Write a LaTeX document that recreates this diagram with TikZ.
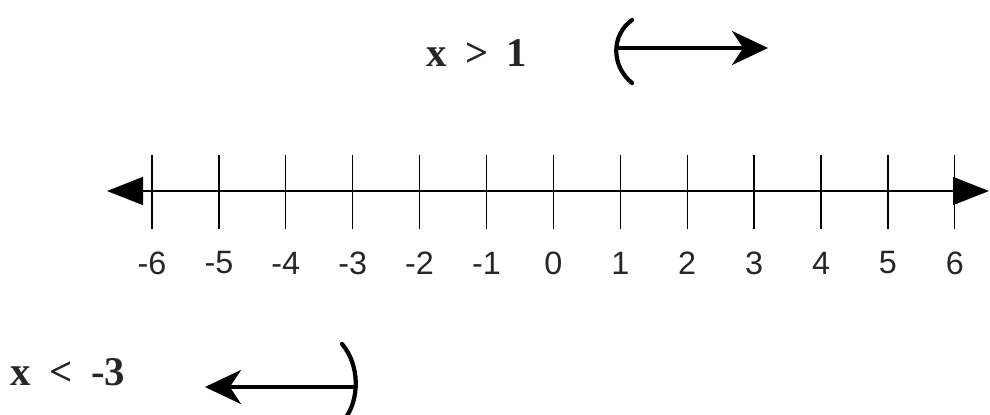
\documentclass[tikz,border=0pt]{standalone}
\usepackage{fontspec}
\setmainfont{Liberation Serif}
\setsansfont{Liberation Sans}
\usetikzlibrary{arrows.meta}
\usetikzlibrary{positioning}

\begin{document}
\begin{tikzpicture}[x=0.025cm, y=-0.025cm,
		num/.style		= {font=\sffamily\fontsize{23}{23}\selectfont, text=black!85},
		ineq/.style		= {font=\bfseries\fontsize{29}{29}\selectfont, text=black!85},
		axis/.style		= {line width=1pt, {Triangle[length=0.9cm, width=0.7cm]}-{Triangle[length=0.9cm, width=0.7cm]}},
		tickline/.style	= {line width=0.9pt},
		ray/.style		= {line width=2.4pt, -{Stealth[length=0.9cm, width=0.85cm, inset=0.28cm]}},
		paren/.style	= {line width=3pt, line cap=round}
		]
		
		\useasboundingbox (0,0) rectangle (990,414);
		
		% === === Number line === ===
		\coordinate	(lend)	at	(107, 191);
		\coordinate	(rend)	at	(989, 191);
		\draw[axis]	(lend)	--	(rend);
		
		\foreach \n [count=\i from 0] in {-6,...,6} {
			\coordinate	(a\i)	at	({152+66.9*\i}, 155);
			\coordinate	(b\i)	at	({152+66.9*\i}, 229);
			\draw[tickline]	(a\i)	--	(b\i);
			\node[num]	(n\i)	at	({152+66.9*\i}, 263)	{\n};
		}
		
		
		% === === x > 1 === ===
		\node[ineq]	(gt)	at	(477, 53)	{x\hskip.45em>\hskip.45em1};
		\coordinate	(gtop)	at	(632, 20);
		\coordinate	(gbot)	at	(632, 83);
		\coordinate	(gmid)	at	(616, 48);
		\coordinate	(gtip)	at	(768, 48);
		\draw[paren]	(gtop)	..	controls	(611, 35)	and	(611, 66)	..	(gbot);
		\draw[ray]	(gmid)	--	(gtip);
		
		
		% === === x < -3 === ===
		\node[ineq]	(lt)	at	(68, 372)	{x\hskip.45em<\hskip.45em-3};
		\coordinate	(ltop)	at	(342, 344);
		\coordinate	(lbot)	at	(344, 420);
		\coordinate	(lmid)	at	(354, 387);
		\coordinate	(ltip)	at	(205, 387);
		\draw[paren]	(ltop)	..	controls	(360, 365)	and	(360, 400)	..	(lbot);
		\draw[ray]	(lmid)	--	(ltip);
		
		
	\end{tikzpicture}
\end{document}
